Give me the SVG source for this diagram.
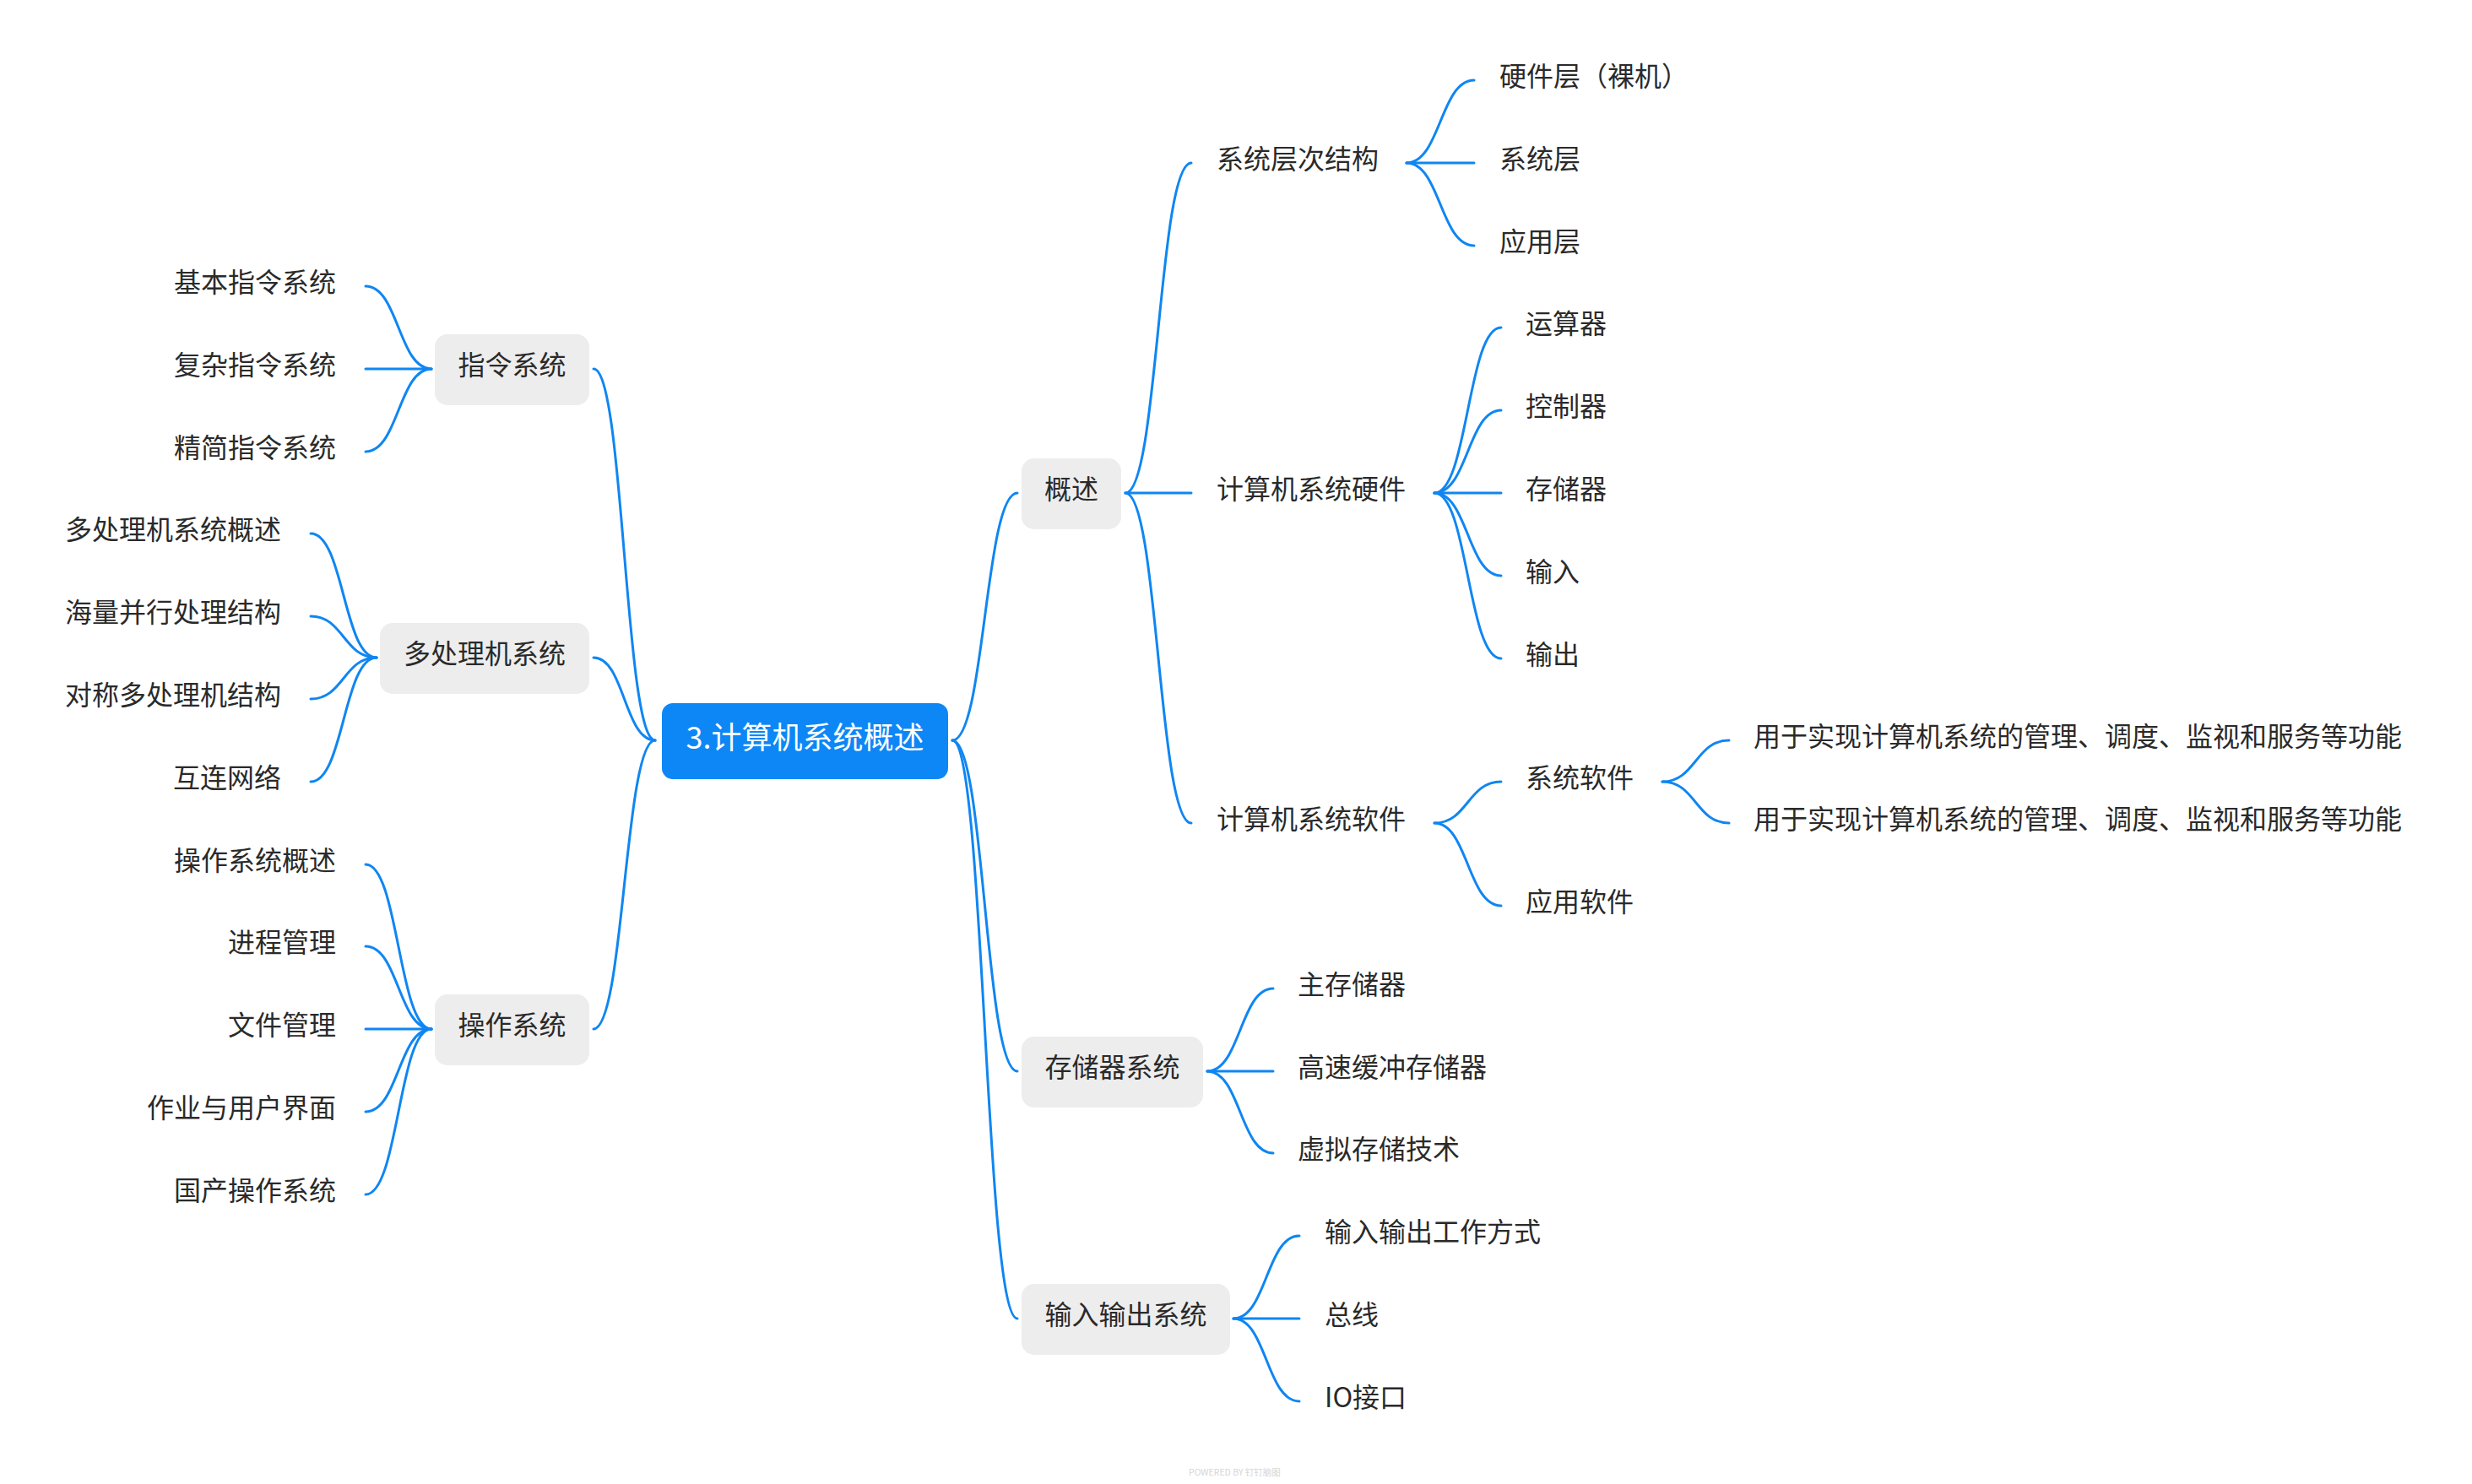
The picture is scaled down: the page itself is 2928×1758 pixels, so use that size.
<svg xmlns="http://www.w3.org/2000/svg" width="2928" height="1758" viewBox="0 0 2928 1758">
<style>
.c{fill:none;stroke:#0f86f2;stroke-width:3;stroke-linecap:round}
.box{fill:#ededed}
.root{fill:#0d87f6}
.t{font-family:"Noto Sans CJK SC","Noto Sans",sans-serif;font-size:32px;fill:#2a2a2a}
.m{text-anchor:middle}
.e{text-anchor:end}
.rt{font-family:"Noto Sans CJK SC","Noto Sans",sans-serif;font-size:36px;fill:#ffffff;text-anchor:middle}
.wm{font-family:"Noto Sans CJK SC","Noto Sans",sans-serif;font-size:10.5px;fill:#d6d6d6}
</style>
<rect width="2928" height="1758" fill="#ffffff"/>
<g id="connectors">
<!-- root left -->
<path class="c" d="M776 877 C739.5 877 739.5 437 703 437"/>
<path class="c" d="M776 877 C739.5 877 739.5 779 703 779"/>
<path class="c" d="M776 877 C739.5 877 739.5 1219 703 1219"/>
<!-- root right -->
<path class="c" d="M1128 877 C1166.5 877 1166.5 584 1205 584"/>
<path class="c" d="M1128 877 C1166.5 877 1166.5 1269 1205 1269"/>
<path class="c" d="M1128 877 C1166.5 877 1166.5 1562 1205 1562"/>
<!-- 指令系统 -->
<path class="c" d="M511 437 C472 437 472 339 433 339"/>
<path class="c" d="M511 437 L433 437"/>
<path class="c" d="M511 437 C472 437 472 535 433 535"/>
<!-- 多处理机系统 -->
<path class="c" d="M446 779 C407 779 407 632 368 632"/>
<path class="c" d="M446 779 C407 779 407 730 368 730"/>
<path class="c" d="M446 779 C407 779 407 828 368 828"/>
<path class="c" d="M446 779 C407 779 407 926 368 926"/>
<!-- 操作系统 -->
<path class="c" d="M511 1219 C472 1219 472 1024 433 1024"/>
<path class="c" d="M511 1219 C472 1219 472 1121 433 1121"/>
<path class="c" d="M511 1219 L433 1219"/>
<path class="c" d="M511 1219 C472 1219 472 1317 433 1317"/>
<path class="c" d="M511 1219 C472 1219 472 1415 433 1415"/>
<!-- 概述 -->
<path class="c" d="M1333 584 C1372 584 1372 193 1411 193"/>
<path class="c" d="M1333 584 L1411 584"/>
<path class="c" d="M1333 584 C1372 584 1372 975 1411 975"/>
<!-- 系统层次结构 -->
<path class="c" d="M1666 193 C1706 193 1706 95 1746 95"/>
<path class="c" d="M1666 193 L1746 193"/>
<path class="c" d="M1666 193 C1706 193 1706 291 1746 291"/>
<!-- 计算机系统硬件 -->
<path class="c" d="M1699 584 C1738.5 584 1738.5 388 1778 388"/>
<path class="c" d="M1699 584 C1738.5 584 1738.5 486 1778 486"/>
<path class="c" d="M1699 584 L1778 584"/>
<path class="c" d="M1699 584 C1738.5 584 1738.5 682 1778 682"/>
<path class="c" d="M1699 584 C1738.5 584 1738.5 780 1778 780"/>
<!-- 计算机系统软件 -->
<path class="c" d="M1699 975 C1738.5 975 1738.5 926 1778 926"/>
<path class="c" d="M1699 975 C1738.5 975 1738.5 1073 1778 1073"/>
<!-- 系统软件 -->
<path class="c" d="M1969 926 C2008.5 926 2008.5 877 2048 877"/>
<path class="c" d="M1969 926 C2008.5 926 2008.5 975 2048 975"/>
<!-- 存储器系统 -->
<path class="c" d="M1430 1269 C1469 1269 1469 1171 1508 1171"/>
<path class="c" d="M1430 1269 L1508 1269"/>
<path class="c" d="M1430 1269 C1469 1269 1469 1366 1508 1366"/>
<!-- 输入输出系统 -->
<path class="c" d="M1461 1562 C1500 1562 1500 1464 1539 1464"/>
<path class="c" d="M1461 1562 L1539 1562"/>
<path class="c" d="M1461 1562 C1500 1562 1500 1660 1539 1660"/>
</g>
<g id="root"><rect class="root" x="784" y="833" width="339" height="90" rx="13"/><text class="rt" x="953.5" y="887">3.计算机系统概述</text></g>
<g id="n-zhiling"><rect class="box" x="515" y="396" width="183" height="84" rx="15"/><text class="t m" x="606.5" y="444">指令系统</text></g>
<g id="n-duochuli"><rect class="box" x="450" y="738" width="248" height="84" rx="15"/><text class="t m" x="574" y="786">多处理机系统</text></g>
<g id="n-caozuo"><rect class="box" x="515" y="1178" width="183" height="84" rx="15"/><text class="t m" x="606.5" y="1226">操作系统</text></g>
<g id="n-gaishu"><rect class="box" x="1210" y="543" width="118" height="84" rx="15"/><text class="t m" x="1269" y="591">概述</text></g>
<g id="n-cunchu"><rect class="box" x="1210" y="1228" width="215" height="84" rx="15"/><text class="t m" x="1317.5" y="1276">存储器系统</text></g>
<g id="n-io"><rect class="box" x="1210" y="1521" width="247" height="84" rx="15"/><text class="t m" x="1333.5" y="1569">输入输出系统</text></g>
<g id="l-jiben"><text class="t e" x="398" y="346">基本指令系统</text></g>
<g id="l-fuza"><text class="t e" x="398" y="444">复杂指令系统</text></g>
<g id="l-jingjian"><text class="t e" x="398" y="542">精简指令系统</text></g>
<g id="l-dcl-gs"><text class="t e" x="333" y="639">多处理机系统概述</text></g>
<g id="l-hailiang"><text class="t e" x="333" y="737">海量并行处理结构</text></g>
<g id="l-duichen"><text class="t e" x="333" y="835">对称多处理机结构</text></g>
<g id="l-hulian"><text class="t e" x="333" y="933">互连网络</text></g>
<g id="l-czgs"><text class="t e" x="398" y="1031">操作系统概述</text></g>
<g id="l-jincheng"><text class="t e" x="398" y="1128">进程管理</text></g>
<g id="l-wenjian"><text class="t e" x="398" y="1226">文件管理</text></g>
<g id="l-zuoye"><text class="t e" x="398" y="1324">作业与用户界面</text></g>
<g id="l-guochan"><text class="t e" x="398" y="1422">国产操作系统</text></g>
<g id="n-cengci"><text class="t" x="1441" y="200">系统层次结构</text></g>
<g id="n-yingjian"><text class="t" x="1441" y="591">计算机系统硬件</text></g>
<g id="n-ruanjian"><text class="t" x="1441" y="982">计算机系统软件</text></g>
<g id="l-yjc"><text class="t" x="1776" y="102">硬件层（裸机）</text></g>
<g id="l-xtc"><text class="t" x="1776" y="200">系统层</text></g>
<g id="l-yyc"><text class="t" x="1776" y="298">应用层</text></g>
<g id="l-ysq"><text class="t" x="1807" y="395">运算器</text></g>
<g id="l-kzq"><text class="t" x="1807" y="493">控制器</text></g>
<g id="l-ccq"><text class="t" x="1807" y="591">存储器</text></g>
<g id="l-sr"><text class="t" x="1807" y="689">输入</text></g>
<g id="l-sc"><text class="t" x="1807" y="787">输出</text></g>
<g id="n-xtrj"><text class="t" x="1807" y="933">系统软件</text></g>
<g id="l-yyrj"><text class="t" x="1807" y="1080">应用软件</text></g>
<g id="l-yongyu1"><text class="t" x="2077" y="884">用于实现计算机系统的管理、调度、监视和服务等功能</text></g>
<g id="l-yongyu2"><text class="t" x="2077" y="982">用于实现计算机系统的管理、调度、监视和服务等功能</text></g>
<g id="l-zcc"><text class="t" x="1537" y="1178">主存储器</text></g>
<g id="l-gshc"><text class="t" x="1537" y="1276">高速缓冲存储器</text></g>
<g id="l-xncc"><text class="t" x="1537" y="1373">虚拟存储技术</text></g>
<g id="l-gzfs"><text class="t" x="1569" y="1471">输入输出工作方式</text></g>
<g id="l-zx"><text class="t" x="1569" y="1569">总线</text></g>
<g id="l-io"><text class="t" x="1569" y="1667">IO接口</text></g>
<text class="wm" x="1408" y="1748">POWERED BY 钉钉脑图</text>
</svg>
